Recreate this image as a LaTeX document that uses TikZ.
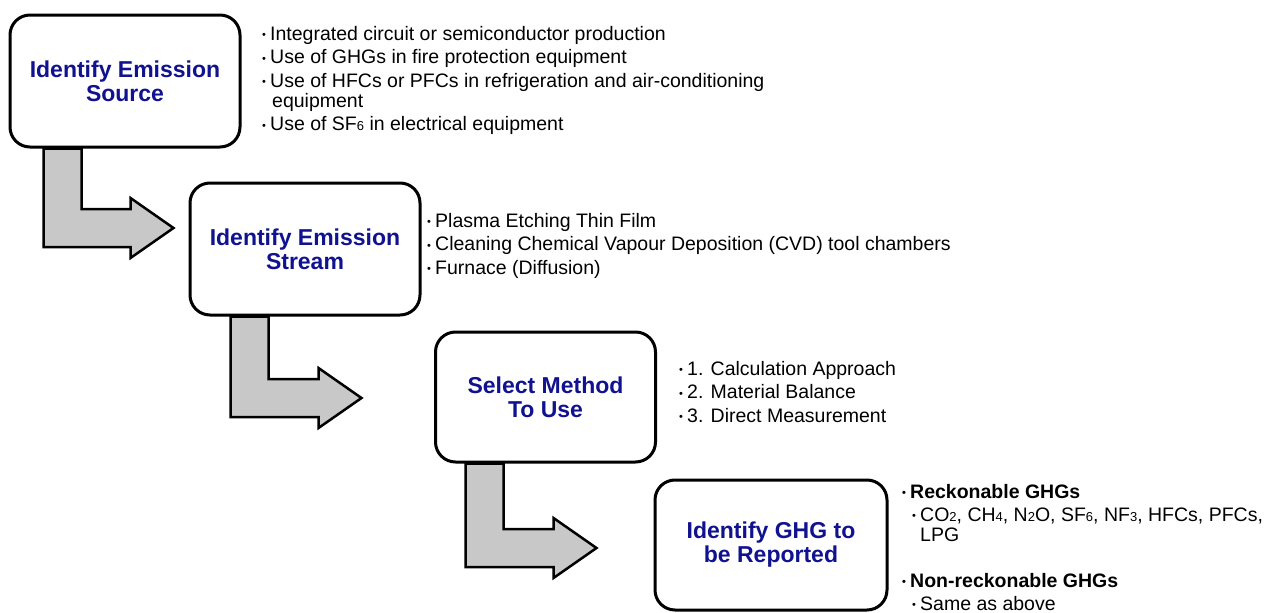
\documentclass[tikz,border=0pt]{standalone}
\usepackage{fontspec}
\setmainfont{Liberation Sans}
\usetikzlibrary{calc,backgrounds}
\definecolor{titleblue}{HTML}{10128F}
\definecolor{arrowgray}{HTML}{C8C8C8}
% small raised bullet followed by a fixed gap
\newcommand\bul{\makebox[8pt][l]{\raisebox{1.5pt}{\fontsize{11}{11}\selectfont\textbullet}}}
% small digits used as chemical indices
\newcommand\dn[1]{{\fontsize{13}{13}\selectfont #1}}
% bent block arrow: #1 = top-left of the shaft, #2 = tip
\newcommand\bentarrow[2]{%
  \draw[blockarrow] let \p1=(#1), \p2=(#2) in
    (\x1,\y1) -- (\x1+38pt,\y1) -- (\x1+38pt,\y2+19pt) -- (\x2-43pt,\y2+19pt)
    -- (\x2-43pt,\y2+30pt) -- (\x2,\y2) -- (\x2-43pt,\y2-30pt)
    -- (\x2-43pt,\y2-19pt) -- (\x1,\y2-19pt) -- cycle;}
\begin{document}
\begin{tikzpicture}[x=1pt,y=-1pt,
  stage/.style={draw, line width=3pt, rounded corners=20pt, fill=white,
    minimum width=230pt, minimum height=132pt, align=center, text=titleblue,
    font=\fontsize{23}{24}\selectfont\bfseries, inner sep=0pt},
  notes/.style={anchor=north west, align=left, inner sep=0pt,
    font=\fontsize{19.5}{20}\selectfont},
  blockarrow/.style={draw, line width=2.5pt, fill=arrowgray, line join=miter}]
\useasboundingbox (0,0) rectangle (1267,613);

% process steps
\node[stage] (src) at (125,81) {Identify Emission\\Source};
\node[stage] (strm) at (305,249) {Identify Emission\\Stream};
\node[stage, minimum width=220pt, minimum height=130pt] (meth) at (545.5,397) {Select Method\\To Use};
\node[stage, minimum width=232pt, minimum height=130pt] (ghg) at (771,545) {Identify GHG to\\be Reported};

% arrow end points
\coordinate (a1s) at ($(src.south west)+(35,0)$);
\coordinate (a1t) at ($(strm.west)+(-15,-21)$);
\coordinate (a2s) at ($(strm.south west)+(42,0)$);
\coordinate (a2t) at ($(meth.west)+(-72.5,1)$);
\coordinate (a3s) at ($(meth.south west)+(31.5,0)$);
\coordinate (a3t) at ($(ghg.west)+(-57,3)$);

\begin{scope}[on background layer]
  \fill[white] (0,0) rectangle (1267,613);
  \bentarrow{a1s}{a1t}
  \bentarrow{a2s}{a2t}
  \bentarrow{a3s}{a3t}
\end{scope}

% notes beside each step
\node[notes] (n1) at (262,26) {\bul Integrated circuit or semiconductor production\\[3.5pt]
  \bul Use of GHGs in fire protection equipment\\[3.5pt]
  \bul Use of HFCs or PFCs in refrigeration and air-conditioning\\
  \hspace*{10pt}equipment\\[3.5pt]
  \bul Use of SF\dn{6} in electrical equipment};

\node[notes] (n2) at (427,213) {\bul Plasma Etching Thin Film\\[3.5pt]
  \bul Cleaning Chemical Vapour Deposition (CVD) tool chambers\\[3.5pt]
  \bul Furnace (Diffusion)};

\node[notes] (n3) at (679,361) {\bul 1. Calculation Approach\\[3.5pt]
  \bul 2. Material Balance\\[3.5pt]
  \bul 3. Direct Measurement};

\node[notes] (n4) at (902,484) {{\bfseries\bul Reckonable GHGs}\\[3pt]
  \hspace*{10pt}\bul CO\dn{2}, CH\dn{4}, N\dn{2}O, SF\dn{6}, NF\dn{3}, HFCs, PFCs,\\
  \hspace*{18pt}LPG\\[26pt]
  {\bfseries\bul Non-reckonable GHGs}\\[3pt]
  \hspace*{10pt}\bul Same as above};
\end{tikzpicture}
\end{document}
